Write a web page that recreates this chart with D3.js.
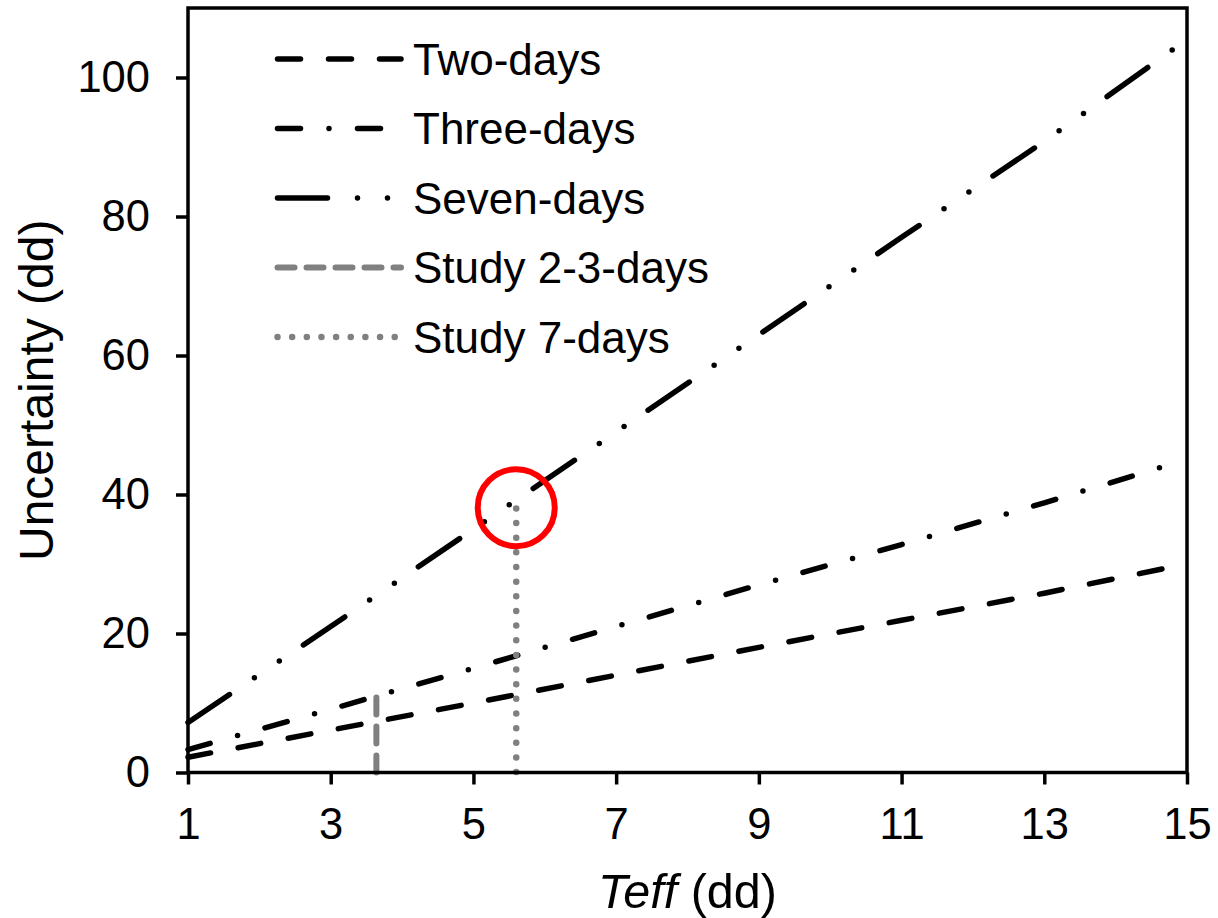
<!DOCTYPE html>
<html>
<head>
<meta charset="utf-8">
<script src="https://cdn.jsdelivr.net/npm/d3@7"></script>
<style>
  body { margin: 0; background: #fff; }
  svg { display: block; font-family: "Liberation Sans", Arial, sans-serif; }
</style>
</head>
<body>
<svg id="container" width="1218" height="918"></svg>
<script>
// values
const xVals = [1, 3, 5, 7, 9, 11, 13];
const endX = [14.75, 14.7, 14.8];   // last x of each curve
const twoDays = [2.2, 6.1, 10.0, 14.0, 18.0, 21.9, 25.8, 29.5];
const threeDays = [3.3, 9.1, 15.0, 21.0, 27.0, 32.8, 38.8, 44.1];
const sevenDays = [7.2, 21.0, 35.0, 49.0, 63.0, 77.0, 90.8, 104.0];

// vertical study markers: x position and top value
const studyX = [3.64, 5.6];
const studyTop = [10.8, 38.0];

const circlePoint = [5.6, 38.1];

const legendLabels = ["Two-days", "Three-days", "Seven-days", "Study 2-3-days", "Study 7-days"];
const xTicks = [1, 3, 5, 7, 9, 11, 13, 15];
const yTicks = [0, 20, 40, 60, 80, 100];

const svg = d3.select('#container');

const plotLeft = 188, plotRight = 1187, plotTop = 8, plotBottom = 772.5;
const x = d3.scaleLinear().domain([1, 15]).range([plotLeft, plotRight]);
const y = d3.scaleLinear().domain([0, 110]).range([plotBottom, plotTop]);

// line styles (same order as legend)
const styles = [
    { color: '#000', width: 5.5, dash: '23,28' },
    { color: '#000', width: 5.5, dash: '23,28.5,0,28.5' },
    { color: '#000', width: 5.5, dash: '50,30,0,30,0,29' },
    { color: '#808080', width: 6, dash: '17,12' },
    { color: '#808080', width: 6.5, dash: '0,14.65' }
];

const series = [twoDays, threeDays, sevenDays];

const line = d3.line()
    .x(d => x(d[0]))
    .y(d => y(d[1]));

// main curves
svg.append('g')
    .selectAll('path')
    .data(series)
    .join('path')
    .attr('d', (vals, s) => line(vals.map((v, i) => [i < xVals.length ? xVals[i] : endX[s], v])))
    .attr('fill', 'none')
    .attr('stroke', (d, i) => styles[i].color)
    .attr('stroke-width', (d, i) => styles[i].width)
    .attr('stroke-dasharray', (d, i) => styles[i].dash)
    .attr('stroke-linecap', 'round');

// study verticals (drawn from the top down)
svg.append('g')
    .selectAll('path')
    .data(studyX)
    .join('path')
    .attr('d', (d, i) => line([[d, studyTop[i]], [d, 0]]))
    .attr('fill', 'none')
    .attr('stroke', (d, i) => styles[3 + i].color)
    .attr('stroke-width', (d, i) => styles[3 + i].width)
    .attr('stroke-dasharray', (d, i) => styles[3 + i].dash)
    .attr('stroke-linecap', 'round');

// axes
const xAxis = svg.append('g')
    .attr('transform', `translate(0,${plotBottom})`)
    .call(d3.axisBottom(x).tickValues(xTicks).tickFormat(d3.format('d'))
        .tickSize(12).tickSizeOuter(0).tickPadding(23.5));

const yAxis = svg.append('g')
    .attr('transform', `translate(${plotLeft},0)`)
    .call(d3.axisLeft(y).tickValues(yTicks).tickFormat(d3.format('d'))
        .tickSize(12).tickSizeOuter(0).tickPadding(26));

[xAxis, yAxis].forEach(ax => {
    ax.select('.domain').remove();
    ax.selectAll('line').attr('stroke', '#000').attr('stroke-width', 3.5);
    ax.selectAll('text')
        .attr('fill', '#000')
        .attr('font-size', 43.5)
        .attr('font-family', '"Liberation Sans", Arial, sans-serif');
});

// frame
svg.append('rect')
    .attr('x', plotLeft)
    .attr('y', plotTop)
    .attr('width', plotRight - plotLeft)
    .attr('height', plotBottom - plotTop)
    .attr('fill', 'none')
    .attr('stroke', '#000')
    .attr('stroke-width', 3.5);

// axis titles
svg.append('text')
    .attr('transform', `translate(53,${(plotTop + plotBottom) / 2}) rotate(-90)`)
    .attr('text-anchor', 'middle')
    .attr('font-size', 48)
    .text('Uncertainty (dd)');

const xTitle = svg.append('text')
    .attr('x', (plotLeft + plotRight) / 2)
    .attr('y', 908)
    .attr('text-anchor', 'middle')
    .attr('font-size', 48.5);
xTitle.append('tspan').attr('font-style', 'italic').text('Teff');
xTitle.append('tspan').text(' (dd)');

// legend
const legend = svg.append('g')
    .selectAll('g')
    .data(legendLabels)
    .join('g')
    .attr('transform', (d, i) => `translate(0,${59 + i * 69.5})`);

legend.append('line')
    .attr('x1', 277.5)
    .attr('x2', 401)
    .attr('stroke', (d, i) => styles[i].color)
    .attr('stroke-width', (d, i) => styles[i].width)
    .attr('stroke-dasharray', (d, i) => styles[i].dash)
    .attr('stroke-linecap', 'round');

legend.append('text')
    .attr('x', 413)
    .attr('y', 15.5)
    .attr('font-size', 44)
    .text(d => d);

// highlight circle
svg.append('circle')
    .attr('cx', x(circlePoint[0]))
    .attr('cy', y(circlePoint[1]))
    .attr('r', 38.5)
    .attr('fill', 'none')
    .attr('stroke', '#ff0000')
    .attr('stroke-width', 6);
</script>
</body>
</html>
